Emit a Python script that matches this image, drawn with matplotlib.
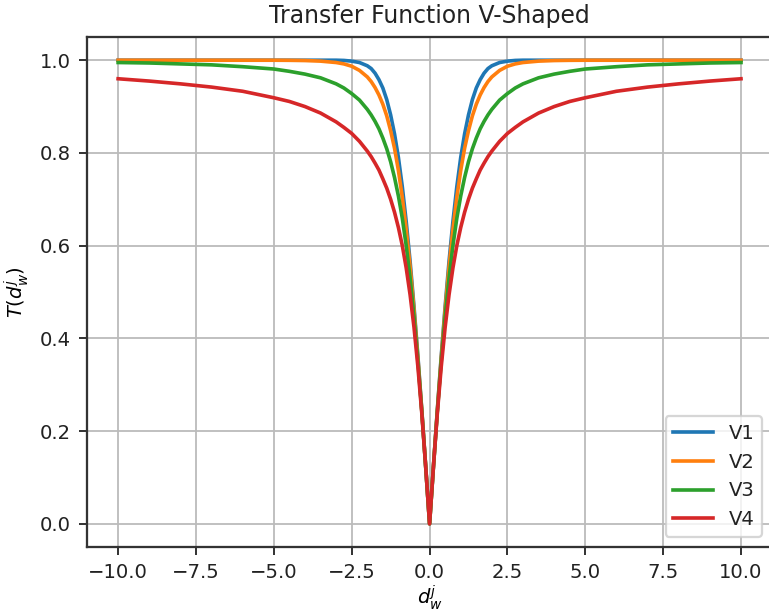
import numpy as np
import matplotlib
matplotlib.use("Agg")
import matplotlib.pyplot as plt

# values, positive half (curves are symmetric about 0)
x_half = [0.0, 0.125, 0.25, 0.375, 0.5, 0.625, 0.75, 0.875, 1.0, 1.125, 1.25, 1.375, 1.5,
          1.625, 1.75, 1.875, 2.0, 2.25, 2.5, 2.75, 3.0, 3.5, 4.0, 4.5, 5.0, 6.0, 7.0, 8.0,
          9.0, 10.0]
v1_half = [0.0, 0.124, 0.246, 0.362, 0.469, 0.566, 0.652, 0.727, 0.790, 0.841, 0.882, 0.915,
           0.940, 0.958, 0.972, 0.982, 0.988, 0.995, 0.998, 0.9995, 1.0, 1.0, 1.0, 1.0, 1.0,
           1.0, 1.0, 1.0, 1.0, 1.0]
v2_half = [0.0, 0.124, 0.245, 0.358, 0.462, 0.555, 0.635, 0.704, 0.762, 0.810, 0.848, 0.880,
           0.905, 0.925, 0.941, 0.954, 0.964, 0.978, 0.987, 0.992, 0.995, 0.998, 0.9993,
           0.9998, 1.0, 1.0, 1.0, 1.0, 1.0, 1.0]
v3_half = [0.0, 0.124, 0.243, 0.351, 0.447, 0.530, 0.600, 0.659, 0.707, 0.747, 0.781, 0.809,
           0.832, 0.852, 0.868, 0.882, 0.894, 0.914, 0.928, 0.940, 0.949, 0.962, 0.970,
           0.976, 0.981, 0.986, 0.990, 0.992, 0.994, 0.995]
v4_half = [0.0, 0.124, 0.239, 0.339, 0.424, 0.494, 0.552, 0.600, 0.639, 0.672, 0.700, 0.724,
           0.744, 0.763, 0.778, 0.792, 0.804, 0.825, 0.842, 0.855, 0.867, 0.886, 0.900,
           0.911, 0.919, 0.933, 0.942, 0.949, 0.955, 0.960]
labels = ["V1", "V2", "V3", "V4"]


def mirror(xs, ys):
    x = [-v for v in xs[::-1]] + xs[1:]
    y = ys[::-1] + ys[1:]
    return x, y


plt.rcParams['font.size'] = 8.7
plt.rcParams['axes.titlesize'] = 10.4
plt.rcParams['text.color'] = '#222222'
plt.rcParams['xtick.color'] = '#222222'
plt.rcParams['ytick.color'] = '#222222'

fig = plt.figure(figsize=(769 / 163, 612 / 163), dpi=163)
ax = fig.add_axes([0.1131, 0.1062, 0.891, 0.8333])

for ys, lab in zip([v1_half, v2_half, v3_half, v4_half], labels):
    x, y = mirror(x_half, ys)
    ax.plot(x, y, label=lab, linewidth=1.6)

ax.set_xlim(-11, 11)
ax.set_ylim(-0.05, 1.05)
ax.set_xticks(np.arange(-10, 10.1, 2.5))
ax.set_yticks([0.0, 0.2, 0.4, 0.6, 0.8, 1.0])
ax.grid(True, color='#bbbbbb')
for s in ax.spines.values():
    s.set_color("#333333")
    s.set_linewidth(1.0)
ax.set_title("Transfer Function V-Shaped")
ax.set_xlabel("$d_w^j$", labelpad=0.5)
ax.set_ylabel("$T(d_w^j)$")
ax.legend(loc="lower right")

fig.savefig("out.png", dpi=163)
